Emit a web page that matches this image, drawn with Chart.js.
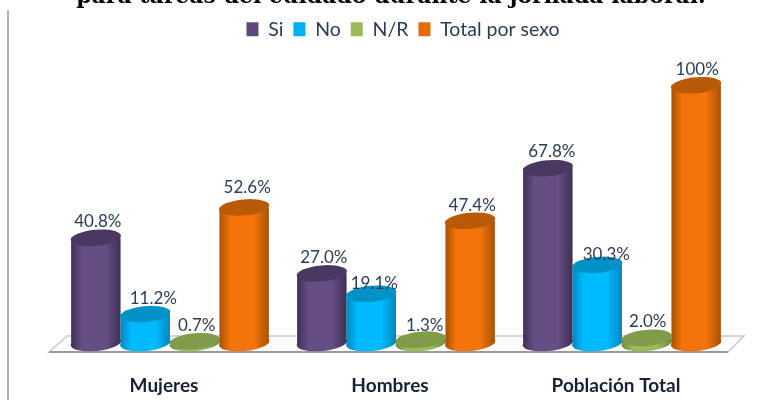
<!DOCTYPE html>
<html>
<head>
<meta charset="utf-8">
<script src="https://cdn.jsdelivr.net/npm/chart.js@4/dist/chart.umd.min.js"></script>
<style>
  html, body { margin: 0; padding: 0; background: #fff; }
  canvas { display: block; }
</style>
</head>
<body>
<canvas id="chart" width="779" height="409"></canvas>
<script>
// Cuidado durante la jornada laboral, por sexo (%)
const categories = ["Mujeres", "Hombres", "Población Total"];
const seriesNames = ["Si", "No", "N/R", "Total por sexo"];
const si = [40.8, 27.0, 67.8];
const no = [11.2, 19.1, 30.3];
const nr = [0.7, 1.3, 2.0];
const total = [52.6, 47.4, 100];
const valueLabels = [
  ["40.8%", "27.0%", "67.8%"],
  ["11.2%", "19.1%", "30.3%"],
  ["0.7%", "1.3%", "2.0%"],
  ["52.6%", "47.4%", "100%"]
];
const titleText = "para tareas del cuidado durante la jornada laboral.";

// Shades per series: flat swatch, cylinder edge, cylinder centre, top cap
const shades = [
  { flat: "#5f497a", edge: "#3f2f56", mid: "#654e83", cap: "#4a3863" },
  { flat: "#00b0f0", edge: "#0088bd", mid: "#00baff", cap: "#0092c6" },
  { flat: "#9bbb59", edge: "#6f8b3c", mid: "#9bbb59", cap: "#7f9c4a" },
  { flat: "#e36c09", edge: "#a85205", mid: "#f4740b", cap: "#b95a06" }
];

const TEXT = "#2c3c54";
const SANS = 'Lato, "Open Sans", sans-serif';
const TILT = -0.09;
const CAP_RY = 8;

function cylinderFill(ctx, bar, s) {
  const l = bar.x - bar.width / 2, r = bar.x + bar.width / 2;
  const g = ctx.createLinearGradient(l, 0, r, 0);
  g.addColorStop(0, s.edge);
  g.addColorStop(0.22, s.mid);
  g.addColorStop(0.7, s.mid);
  g.addColorStop(1, s.edge);
  return g;
}

const cylinders = {
  id: "cylinders",
  afterLayout(chart) {
    // The heading and the key sit slightly off the plot's centre
    chart.titleBlock.left -= 5; chart.titleBlock.right -= 5;
    chart.legend.left += 7; chart.legend.right += 7;
  },
  afterDatasetsUpdate(chart) {
    chart.data.datasets.forEach((ds, i) => {
      chart.getDatasetMeta(i).data.forEach(bar => {
        bar.options = Object.assign({}, bar.options, {
          backgroundColor: cylinderFill(chart.ctx, bar, shades[i])
        });
      });
    });
  },
  beforeDatasetsDraw(chart) {
    const { ctx, chartArea: area, scales } = chart;
    const y0 = scales.y.getPixelForValue(0);

    // Floor panel under the columns
    ctx.save();
    ctx.beginPath();
    ctx.moveTo(area.left - 8, y0 + 9);
    ctx.lineTo(area.left + 10, y0 - 7);
    ctx.lineTo(area.right + 9, y0 - 7);
    ctx.lineTo(area.right - 7, y0 + 9);
    ctx.closePath();
    ctx.fillStyle = "#fbfbfb";
    ctx.fill();
    ctx.strokeStyle = "#c9c9c9";
    ctx.lineWidth = 1.5;
    ctx.stroke();
    ctx.beginPath();
    ctx.moveTo(area.left - 8, y0 + 9);
    ctx.lineTo(area.right - 7, y0 + 9);
    ctx.strokeStyle = "#9a9a9a";
    ctx.lineWidth = 2;
    ctx.stroke();
    ctx.restore();

    // Columns go left to right so each one overlaps its left neighbour
    chart.data.datasets.forEach((ds, i) => {
      chart.getDatasetMeta(i).data.forEach(bar => {
        const rx = bar.width / 2 + 0.5;
        ctx.save();
        ctx.beginPath();
        ctx.ellipse(bar.x, bar.base, rx, CAP_RY, TILT, 0, Math.PI * 2);
        ctx.fillStyle = cylinderFill(ctx, bar, shades[i]);
        ctx.fill();
        ctx.restore();
        bar.draw(ctx, area);
        ctx.save();
        ctx.beginPath();
        ctx.ellipse(bar.x, bar.y, rx, CAP_RY, TILT, 0, Math.PI * 2);
        ctx.fillStyle = shades[i].cap;
        ctx.fill();
        ctx.restore();
      });
    });
    return false;
  },
  afterDraw(chart) {
    const { ctx } = chart;

    // Value labels above each column, nudged clear of the neighbouring column
    const nudge = [
      [[0, 0], [0, 0], [2, -1]],
      [[6, 0], [1, 6], [7, 6]],
      [[0, 0], [2, 2], [-1, 0]],
      [[1, -4], [0, 1], [-1, 0]]
    ];
    ctx.save();
    ctx.font = "17px " + SANS;
    ctx.fillStyle = TEXT;
    ctx.textAlign = "center";
    ctx.textBaseline = "middle";
    chart.data.datasets.forEach((ds, i) => {
      chart.getDatasetMeta(i).data.forEach((bar, j) => {
        ctx.fillText(valueLabels[i][j], bar.x + 2 + nudge[i][j][0], bar.y - 16 + nudge[i][j][1]);
      });
    });
    ctx.restore();

    // Rule down the left side of the figure
    ctx.save();
    ctx.strokeStyle = "#9a9a9a";
    ctx.lineWidth = 1.5;
    ctx.beginPath();
    ctx.moveTo(8, 10);
    ctx.lineTo(8, 400);
    ctx.stroke();
    ctx.restore();
  }
};

const seriesValues = [si, no, nr, total];

new Chart(document.getElementById("chart"), {
  type: "bar",
  data: {
    labels: categories,
    datasets: seriesNames.map((name, i) => ({
      label: name,
      data: seriesValues[i],
      backgroundColor: shades[i].flat,
      borderWidth: 0,
      categoryPercentage: 0.875,
      barPercentage: 1
    }))
  },
  plugins: [cylinders],
  options: {
    responsive: false,
    animation: false,
    layout: { padding: { left: 57, right: 44, top: 0, bottom: 0 } },
    plugins: {
      title: {
        display: true,
        text: titleText,
        color: "#000",
        font: { family: '"DejaVu Serif", serif', weight: "bold", size: 22 },
        padding: { top: -16, bottom: -0.8 }
      },
      legend: {
        display: true,
        position: "top",
        labels: {
          color: TEXT,
          boxWidth: 12,
          boxHeight: 14,
          padding: 10,
          font: { family: SANS, size: 19.5 }
        }
      },
      tooltip: { enabled: false }
    },
    scales: {
      x: {
        grid: { display: false, drawTicks: false },
        border: { display: false },
        afterFit(scale) { scale.height = 66; },
        ticks: {
          padding: 31,
          labelOffset: -6,
          color: "#162234",
          font: { family: SANS, weight: "bold", size: 19 }
        }
      },
      y: { display: false, min: 0, max: 114 }
    }
  }
});
</script>
</body>
</html>
